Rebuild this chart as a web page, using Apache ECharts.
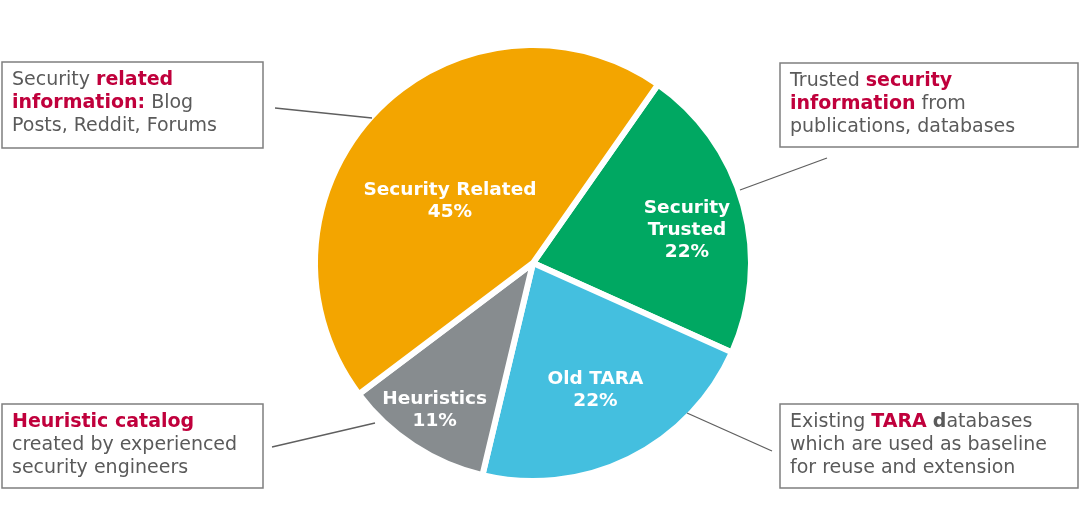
<!DOCTYPE html>
<html>
<head>
<meta charset="utf-8">
<script src="https://cdn.jsdelivr.net/npm/echarts@6/dist/echarts.min.js"></script>
<style>
html,body{margin:0;padding:0;background:#fff;}
#chart{width:1080px;height:527px;}
</style>
</head>
<body>
<div id="chart"></div>
<script>
const categories = ['Security Trusted', 'Old TARA', 'Heuristics', 'Security Related'];
const labelNames = ['Security\nTrusted', 'Old TARA', 'Heuristics', 'Security Related'];
const values = [22, 22, 11, 45];
const sliceColors = ['#00a862', '#44bfdf', '#878c8f', '#f3a500'];

const FONT = '"DejaVu Sans", Verdana, sans-serif';
const GREY = '#5a5a5a';
const RED = '#c0003c';

const chart = echarts.init(document.getElementById('chart'), null, {renderer: 'canvas'});

const labelShift = [[46, -3], [13, 27], [-37, 53], [-2.5, 16]];

function box(x, y, w, h) {
  return {type: 'rect', shape: {x: x, y: y, width: w, height: h},
    style: {fill: '#fff', stroke: '#7f7f7f', lineWidth: 1.5}, z: 10};
}
function line(x1, y1, x2, y2) {
  return {type: 'line', shape: {x1: x1, y1: y1, x2: x2, y2: y2},
    style: {stroke: '#5f5f5f', lineWidth: 1.3}, z: 10};
}
const FS = 19;
const rich = {
  n: {fontFamily: FONT, fontSize: FS, fill: GREY, lineHeight: 23},
  r: {fontFamily: FONT, fontSize: FS, fill: RED, fontWeight: 'bold', lineHeight: 23},
  g: {fontFamily: FONT, fontSize: FS, fill: GREY, fontWeight: 'bold', lineHeight: 23}
};
function txt(x, y, s) {
  return {type: 'text', x: x, y: y, z: 11,
    style: {text: s, rich: rich, fontFamily: FONT, fontSize: FS, fill: GREY, verticalAlign: 'top'}};
}

chart.setOption({
  backgroundColor: '#ffffff',
  animation: false,
  series: [{
    type: 'pie',
    center: [533, 263],
    radius: ['0%', 218],
    startAngle: 55,
    clockwise: true,
    avoidLabelOverlap: false,
    itemStyle: {borderColor: '#ffffff', borderWidth: 6},
    label: {
      position: 'inside',
      formatter: function (p) { return labelNames[p.dataIndex] + '\n' + p.value + '%'; },
      color: '#ffffff',
      fontFamily: FONT,
      fontWeight: 'bold',
      fontSize: 18.5,
      lineHeight: 22,
      align: 'center'
    },
    labelLine: {show: false},
    labelLayout: function (p) {
      const s = labelShift[p.dataIndex];
      return {dx: s[0], dy: s[1]};
    },
    emphasis: {disabled: true},
    data: categories.map(function (c, i) {
      return {name: c, value: values[i], itemStyle: {color: sliceColors[i]}};
    })
  }],
  graphic: [
    line(275, 108, 372, 118),
    line(827, 158, 740, 190),
    line(272, 447, 375, 423),
    line(687, 413, 772, 451),
    box(2, 62, 261, 86),
    box(780, 63, 298, 84),
    box(2, 404, 261, 84),
    box(780, 404, 298, 84),
    txt(12, 69, '{n|Security }{r|related}\n{r|information:}{n| Blog}\n{n|Posts, Reddit, Forums}'),
    txt(790, 70, '{n|Trusted }{r|security}\n{r|information}{n| from}\n{n|publications, databases}'),
    txt(12, 411, '{r|Heuristic catalog}\n{n|created by experienced}\n{n|security engineers}'),
    txt(790, 411, '{n|Existing }{r|TARA}{n| }{g|d}{n|atabases}\n{n|which are used as baseline}\n{n|for reuse and extension}')
  ]
});
</script>
</body>
</html>
